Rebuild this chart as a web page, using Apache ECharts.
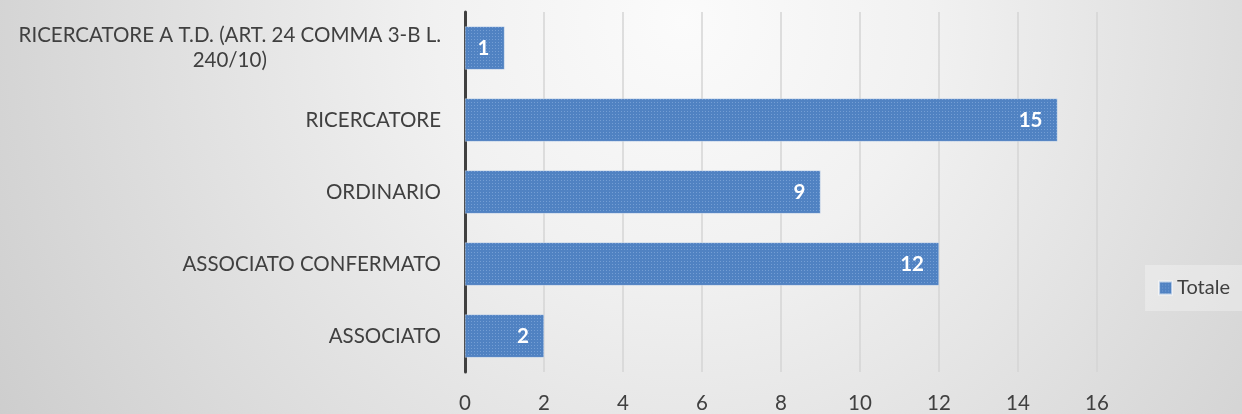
<!DOCTYPE html>
<html><head><meta charset="utf-8">
<script src="https://cdn.jsdelivr.net/npm/echarts@6/dist/echarts.min.js"></script>
<style>html,body{margin:0;padding:0;}#c{width:1242px;height:414px;}</style>
</head><body><div id="c"></div>
<script>
const categories = ['ASSOCIATO', 'ASSOCIATO CONFERMATO', 'ORDINARIO', 'RICERCATORE', 'RICERCATORE A T.D. (ART. 24 COMMA 3-B L. 240/10)'];
const totale = [2, 12, 9, 15, 1];
const xTicks = [0, 2, 4, 6, 8, 10, 12, 14, 16];
const seriesName = 'Totale';

const chart = echarts.init(document.getElementById('c'));
const FONT = 'Lato';
function wrap(s) {
  const maxLen = 42;
  if (s.length <= maxLen) return '{a|' + s + '}';
  const words = s.split(' ');
  const lines = []; let cur = '';
  words.forEach(w => {
    if ((cur + ' ' + w).trim().length > maxLen) { lines.push(cur.trim()); cur = w; }
    else cur = (cur + ' ' + w).trim();
  });
  if (cur) lines.push(cur);
  return lines.map(l => '{a|' + l + '}').join('\n');
}
chart.setOption({
  backgroundColor: {
    type: 'radial', x: 0.55, y: 0.05, r: 2.0,
    colorStops: [
      { offset: 0, color: '#fbfbfb' },
      { offset: 0.3, color: '#f1f1f1' },
      { offset: 1, color: '#cbcbcb' }
    ]
  },
  textStyle: { fontFamily: FONT },
  grid: { left: 465, right: 145, top: 12, bottom: 42, containLabel: false },
  legend: {
    data: [seriesName], right: 0, top: 265, orient: 'vertical',
    icon: 'rect',
    backgroundColor: 'rgba(255,255,255,0.3)',
    padding: [13, 12, 13, 13],
    itemWidth: 13, itemHeight: 13, itemGap: 6,
    textStyle: { fontSize: 20, color: '#404040', fontFamily: FONT }
  },
  xAxis: {
    type: 'value', min: 0, max: 16, interval: 2,
    axisLine: { show: false }, axisTick: { show: false },
    splitLine: { show: true, lineStyle: { color: '#d5d5d5', width: 1.5 } },
    axisLabel: { fontSize: 20.5, color: '#404040', margin: 21, fontFamily: FONT,
      formatter: v => xTicks.includes(v) ? String(v) : '' }
  },
  yAxis: {
    type: 'category', data: categories,
    axisLine: { show: true, lineStyle: { color: '#404040', width: 3 } },
    axisTick: { show: false },
    axisLabel: { fontSize: 20.5, color: '#404040', margin: 24, fontFamily: FONT, align: 'right',
      formatter: wrap, lineHeight: 25,
      rich: { a: { align: 'center', fontSize: 20.5, color: '#404040', fontFamily: FONT, lineHeight: 25 } } }
  },
  series: [{
    name: seriesName, type: 'bar', data: totale, barWidth: '60%',
    itemStyle: {
      color: '#5082c2',
      borderColor: 'rgba(255,255,255,0.35)', borderWidth: 0.5,
      decal: { symbol: 'rect', symbolSize: 1, dashArrayX: [[1, 2]], dashArrayY: [1, 2], color: 'rgba(170,200,240,0.4)' }
    },
    label: { show: true, position: 'insideRight', distance: 15, color: '#ffffff', fontWeight: 'bold', fontSize: 20.5, fontFamily: FONT }
  }]
});
</script></body></html>
